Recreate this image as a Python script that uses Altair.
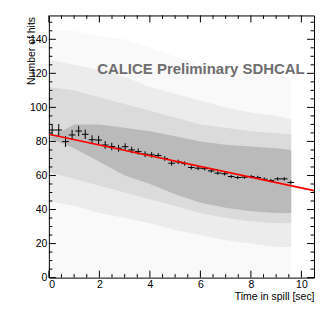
import altair as alt
import pandas as pd

# ---- profile points (mean number of hits per time bin) ----
prof_x = [0.13, 0.39, 0.66, 0.92, 1.18, 1.44, 1.71, 1.97, 2.23, 2.49, 2.76, 3.02, 3.28,
          3.54, 3.81, 4.07, 4.33, 4.59, 4.86, 5.12, 5.38, 5.64, 5.91, 6.17, 6.43, 6.69,
          6.96, 7.22, 7.48, 7.74, 8.01, 8.27, 8.53, 8.79, 9.06, 9.32, 9.58]
prof_y = [86.7, 86.7, 79.9, 83.8, 86.1, 84.2, 81.0, 80.8, 77.9, 77.0, 76.0, 76.9, 75.0,
          74.0, 72.5, 72.1, 71.7, 70.0, 67.2, 68.0, 67.0, 64.7, 64.3, 64.0, 62.7, 61.4,
          61.0, 59.4, 58.8, 59.0, 59.4, 58.8, 57.8, 57.0, 58.0, 58.0, 55.9]
prof_err = [3.5, 3.5, 3.2, 3.0, 3.0, 2.8, 2.6, 2.5, 2.3, 2.2, 2.0, 2.0, 1.9,
            1.8, 1.7, 1.6, 1.5, 1.4, 1.4, 1.3, 1.3, 1.2, 1.2, 1.1, 1.1, 1.0,
            1.0, 1.0, 1.0, 1.0, 1.0, 1.0, 1.0, 1.0, 1.0, 1.0, 1.2]
bin_half = 0.13125

# ---- linear fit ----
fit_x = [0.0, 10.5]
fit_y = [84.2, 51.1]

# ---- scatter cloud, drawn as nested density envelopes ----
cloud_x = [0, 1, 2, 3, 4, 5, 6, 7, 8, 9, 9.6]
sparse_lo = [0, 0, 0, 0, 0, 0, 0, 0, 0, 0, 0]
sparse_hi = [145, 145, 142, 140, 135, 130, 125, 122, 120, 118, 118]
mid_lo = [45, 42, 38, 35, 32, 28, 25, 22, 20, 18, 18]
mid_hi = [128, 125, 122, 118, 112, 108, 104, 100, 97, 95, 93]
core_lo = [62, 58, 54, 50, 46, 42, 38, 35, 33, 32, 32]
core_hi = [112, 110, 106, 102, 98, 94, 90, 88, 86, 85, 84]
dense_lo = [82, 76, 68, 60, 55, 49, 44, 41, 39, 38, 38]
dense_hi = [82, 90, 90, 88, 86, 83, 80, 78, 77, 76, 75]
levels = [(sparse_lo, sparse_hi, 0.025), (mid_lo, mid_hi, 0.05),
          (core_lo, core_hi, 0.07), (dense_lo, dense_hi, 0.15)]

# ---- axis ticks ----
x_labels = [0, 2, 4, 6, 8, 10]
x_minor = [0.5, 1, 1.5, 2.5, 3, 3.5, 4.5, 5, 5.5, 6.5, 7, 7.5, 8.5, 9, 9.5]
y_labels = [0, 20, 40, 60, 80, 100, 120, 140]
y_minor = [v for v in range(5, 155, 5) if v % 20 != 0]

annot_text = "CALICE Preliminary SDHCAL"
annot_x = [10.13]
annot_y = [119.8]

W, H = 266, 263
FONT = "Liberation Sans"
MAJ, MIN = 7, 3.5

XAXIS = alt.Axis(values=x_labels, ticks=False, tickSize=0, domain=False, grid=False,
                 labelPadding=2, labelFontSize=10.5, labelFont=FONT, labelColor="black",
                 title="Time in spill [sec]", titleFont=FONT, titleFontSize=10.5,
                 titleFontWeight="normal", titleColor="black", titleAnchor="end",
                 titleAlign="right", titleBaseline="alphabetic", titleX=W, titleY=22)
YAXIS = alt.Axis(values=y_labels, ticks=False, tickSize=0, domain=False, grid=False,
                 labelPadding=2, labelFontSize=10.5, labelFont=FONT, labelColor="black",
                 title="Number of hits", titleFont=FONT, titleFontSize=10.5,
                 titleFontWeight="normal", titleColor="black", titleAngle=270,
                 titleAlign="right", titleBaseline="middle", titleX=-17, titleY=1)
XS = alt.Scale(domain=[0, 10.5], nice=False, zero=False)
YS = alt.Scale(domain=[0, 154], nice=False, zero=False)


def X(f):
    return alt.X(f"{f}:Q", scale=XS, axis=XAXIS)


def Y(f):
    return alt.Y(f"{f}:Q", scale=YS, axis=YAXIS)


layers = []
for lo, hi, op in levels:
    df = pd.DataFrame({"x": cloud_x, "y": lo, "y2": hi})
    layers.append(alt.Chart(df).mark_area(color="black", opacity=op, clip=True)
                  .encode(x=X("x"), y=Y("y"), y2="y2:Q"))

prof = pd.DataFrame({"x": prof_x, "y": prof_y, "e": prof_err})
layers.append(alt.Chart(prof).transform_calculate(lo="datum.y - datum.e", hi="datum.y + datum.e")
              .mark_rule(color="black", strokeWidth=1)
              .encode(x=X("x"), y=Y("lo"), y2="hi:Q"))
layers.append(alt.Chart(prof).transform_calculate(xa=f"datum.x - {bin_half}", xb=f"datum.x + {bin_half}")
              .mark_rule(color="black", strokeWidth=1)
              .encode(x=X("xa"), x2="xb:Q", y=Y("y")))

fit = pd.DataFrame({"x": fit_x, "y": fit_y})
layers.append(alt.Chart(fit).mark_line(color="#ff0000", strokeWidth=1.6, clip=True)
              .encode(x=X("x"), y=Y("y")))

ann = pd.DataFrame({"x": annot_x, "y": annot_y, "t": [annot_text]})
layers.append(alt.Chart(ann).mark_text(align="right", baseline="alphabetic", font=FONT,
                                       fontWeight="bold", fontSize=15, color="#6e6e6e")
              .encode(x=X("x"), y=Y("y"), text="t:N"))

# inward ticks on all four sides
for vals, ln in [(x_labels, MAJ), (x_minor, MIN)]:
    d = pd.DataFrame({"x": vals})
    layers.append(alt.Chart(d).mark_rule(color="black", strokeWidth=1)
                  .encode(x=X("x"), y=alt.value(H), y2=alt.value(H - ln)))
    layers.append(alt.Chart(d).mark_rule(color="black", strokeWidth=1)
                  .encode(x=X("x"), y=alt.value(0), y2=alt.value(ln)))
for vals, ln in [(y_labels, MAJ), (y_minor, MIN)]:
    d = pd.DataFrame({"y": vals})
    layers.append(alt.Chart(d).mark_rule(color="black", strokeWidth=1)
                  .encode(y=Y("y"), x=alt.value(0), x2=alt.value(ln)))
    layers.append(alt.Chart(d).mark_rule(color="black", strokeWidth=1)
                  .encode(y=Y("y"), x=alt.value(W), x2=alt.value(W - ln)))

chart = (alt.layer(*layers)
         .properties(width=W, height=H, autosize=alt.AutoSizeParams(type="none"),
                     padding={"left": 41, "top": 7, "right": 10, "bottom": 30},
                     background="white")
         .configure_view(stroke="black", strokeWidth=1))

chart.save("out.html", embed_options={"renderer": "svg", "actions": False})
